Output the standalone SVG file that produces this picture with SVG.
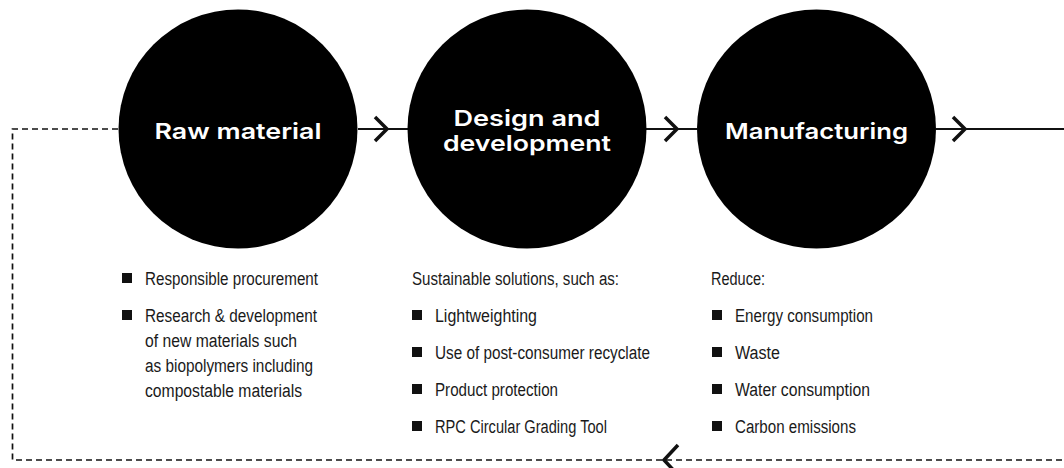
<svg xmlns="http://www.w3.org/2000/svg" width="1064" height="468" viewBox="0 0 1064 468">
<style>
.node-circle{fill:#000}
.title{font-family:Inter,"Open Sans","Liberation Sans",sans-serif;font-weight:600;font-size:22px;fill:#fff;text-anchor:middle}
.body{font-family:"Liberation Sans Narrow","Liberation Sans",Arial,sans-serif;font-size:18px;fill:#1a1a1a}
.bullet{fill:#111}
.solid{stroke:#111;stroke-width:2;fill:none}
.dash{stroke:#111;stroke-width:1.7;fill:none;stroke-dasharray:6 4}
.chev{stroke:#111;stroke-width:3.5;fill:none;stroke-linecap:butt;stroke-linejoin:miter}
</style>
<rect width="1064" height="468" fill="#fff"/>
<g id="connectors">
  <path class="solid" d="M358 129H408"/>
  <path class="chev" d="M375 117L387 129L375 141"/>
  <path class="solid" d="M645 129H697"/>
  <path class="chev" d="M665 117L677 129L665 141"/>
  <path class="solid" d="M936 129H1064"/>
  <path class="chev" d="M953 117L965 129L953 141"/>
  <path class="dash" d="M118 129H12.5V460H1064"/>
  <path class="chev" d="M678 445L664 460L678 475"/>
</g>
<g id="node-raw-material">
  <circle class="node-circle" cx="238" cy="129" r="119.5"/>
  <text class="title" x="238" y="139" textLength="167" lengthAdjust="spacingAndGlyphs">Raw material</text>
  <rect class="bullet" x="122" y="273" width="10" height="10"/>
  <text class="body" x="145" y="285" textLength="173" lengthAdjust="spacingAndGlyphs">Responsible procurement</text>
  <rect class="bullet" x="122" y="310" width="10" height="10"/>
  <text class="body" x="145" y="322" textLength="172" lengthAdjust="spacingAndGlyphs">Research &amp; development</text>
  <text class="body" x="145" y="347" textLength="152" lengthAdjust="spacingAndGlyphs">of new materials such</text>
  <text class="body" x="145" y="372" textLength="168" lengthAdjust="spacingAndGlyphs">as biopolymers including</text>
  <text class="body" x="145" y="397" textLength="157" lengthAdjust="spacingAndGlyphs">compostable materials</text>
</g>
<g id="node-design">
  <circle class="node-circle" cx="527" cy="129" r="119.5"/>
  <text class="title" x="527" y="126" textLength="147" lengthAdjust="spacingAndGlyphs">Design and</text>
  <text class="title" x="527" y="151" textLength="168" lengthAdjust="spacingAndGlyphs">development</text>
  <text class="body" x="412" y="285" textLength="207" lengthAdjust="spacingAndGlyphs">Sustainable solutions, such as:</text>
  <rect class="bullet" x="412" y="310" width="10" height="10"/>
  <text class="body" x="435" y="322" textLength="102" lengthAdjust="spacingAndGlyphs">Lightweighting</text>
  <rect class="bullet" x="412" y="347" width="10" height="10"/>
  <text class="body" x="435" y="359" textLength="215" lengthAdjust="spacingAndGlyphs">Use of post-consumer recyclate</text>
  <rect class="bullet" x="412" y="384" width="10" height="10"/>
  <text class="body" x="435" y="396" textLength="123" lengthAdjust="spacingAndGlyphs">Product protection</text>
  <rect class="bullet" x="412" y="421" width="10" height="10"/>
  <text class="body" x="435" y="433" textLength="172" lengthAdjust="spacingAndGlyphs">RPC Circular Grading Tool</text>
</g>
<g id="node-manufacturing">
  <circle class="node-circle" cx="816.5" cy="129" r="119.5"/>
  <text class="title" x="816.5" y="139" textLength="183" lengthAdjust="spacingAndGlyphs">Manufacturing</text>
  <text class="body" x="711" y="285" textLength="54" lengthAdjust="spacingAndGlyphs">Reduce:</text>
  <rect class="bullet" x="712" y="310" width="10" height="10"/>
  <text class="body" x="735" y="322" textLength="138" lengthAdjust="spacingAndGlyphs">Energy consumption</text>
  <rect class="bullet" x="712" y="347" width="10" height="10"/>
  <text class="body" x="735" y="359" textLength="45" lengthAdjust="spacingAndGlyphs">Waste</text>
  <rect class="bullet" x="712" y="384" width="10" height="10"/>
  <text class="body" x="735" y="396" textLength="135" lengthAdjust="spacingAndGlyphs">Water consumption</text>
  <rect class="bullet" x="712" y="421" width="10" height="10"/>
  <text class="body" x="735" y="433" textLength="121" lengthAdjust="spacingAndGlyphs">Carbon emissions</text>
</g>
</svg>
